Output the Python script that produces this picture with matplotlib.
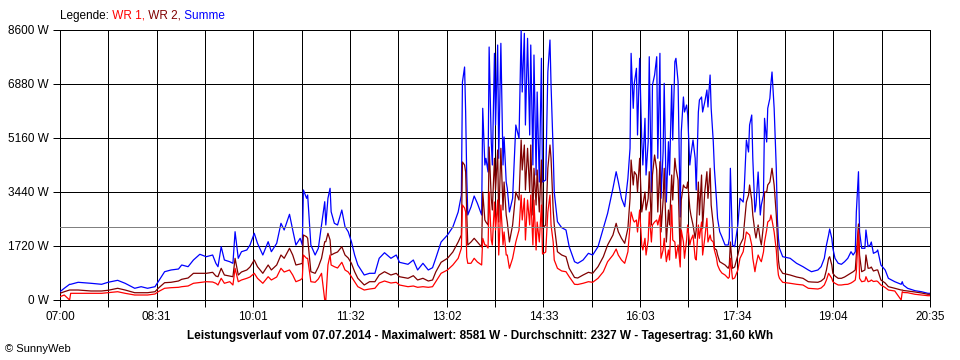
import numpy as np
import pandas as pd
import matplotlib
matplotlib.use('Agg')
import matplotlib.pyplot as plt

# Leistungsverlauf 07.07.2014, Werte aus dem SunnyWeb-Diagramm abgelesen
# Zeit in Minuten ab 07:00, Leistung in W
start = '2014-07-07 07:00'
ende_min = 815

minuten = [0, 4, 9, 10, 17, 29, 39, 45, 54, 61, 70, 76, 82, 89, 92, 98, 104, 111, 114,
           120, 125, 131, 137, 143, 146, 148, 151, 154, 159, 162, 164, 167, 170, 175, 178,
           182, 185, 190, 195, 198, 203, 207, 210, 215, 218, 221, 225, 227, 228, 231,
           232, 235, 239, 242, 245, 248, 249, 251, 253, 254, 257, 260, 264, 267, 270, 273,
           276, 279, 285, 290, 295, 299, 304, 310, 315, 318, 326, 331, 335, 340, 345, 349,
           352, 357, 363, 368, 373, 376, 377, 379, 380, 381, 382, 385, 388, 391, 395, 396,
           398, 399, 401, 402, 404, 405, 407, 408, 410, 411, 413, 415, 416, 418, 419, 421,
           424, 427, 430, 432, 433, 435, 436, 438, 440, 441, 443, 444, 446, 447, 449, 451,
           452, 455, 457, 459, 460, 462, 463, 466,
           470, 474, 477, 482, 485, 490, 495, 499, 504, 509, 513, 518, 521, 523, 526, 529,
           532, 534, 535, 537, 538, 540, 541, 543, 545, 546, 548, 549, 551, 552, 554, 555,
           557, 559, 560, 562, 563, 565, 566, 568, 570, 571, 573, 574, 576, 577, 579, 581,
           582, 584, 585, 587, 588, 590, 591, 593, 595, 596, 598, 599, 601, 602, 604, 606,
           607, 609, 610, 612, 613, 615, 616, 618, 620, 623, 626, 627, 628, 630, 632, 635,
           637, 640, 641, 643, 645, 646, 648, 649, 651, 652, 654, 656, 657, 659, 660, 662,
           663, 665, 666, 667, 669, 671, 672, 673, 674, 677, 684, 690, 696, 701,
           704, 710, 713, 716, 718, 720, 721, 723, 724, 726, 729, 732, 735, 738, 741, 743,
           745, 746, 748, 749, 751, 754, 755, 757, 759, 760, 762, 765, 766, 769, 773, 776,
           782, 788, 789, 790, 794, 801, 807, 813, 815]

summe = [264, 373, 500, 500, 564, 532, 500, 564, 627, 532, 373, 424, 373, 424, 583, 901, 956, 987, 1115,
         1061, 1274, 1456, 1379, 1433, 1169, 1061, 1698, 1274, 1220, 1169, 2175, 1328, 1538, 1593, 1752,
         2124, 1806, 1433, 1857, 1538, 1806, 2443, 2230, 2730, 2230, 1752, 1965, 1752, 3504, 3239,
         3344, 1752, 1433, 1647, 2389, 3131, 2389, 3239, 3558, 2812, 2443, 2389, 2866, 2335, 2175, 1857,
         1433, 1115, 796, 850, 850, 1328, 1506, 1328, 1433, 1201, 1137, 1274, 956, 1169, 956, 1029,
         1328, 1847, 2070, 2325, 2803, 3344, 6943, 7421, 5988, 3981, 2707, 2962, 3312, 3080, 2707, 6106,
         4300, 4513, 4077, 8058, 5032, 4300, 7857, 5574, 8122, 4513, 8176, 4300, 5192, 3758, 3558, 2803,
         3239, 5574, 5150, 8581, 6625, 8494, 5574, 8335, 5255, 8122, 4300, 7803, 3981, 6625, 3758, 7698,
         3758, 3822, 7262, 8281, 6848, 4723, 3440, 2494,
         2303, 2230, 1698, 1220, 1169, 1274, 1487, 1433, 1698, 2284, 2761, 3558, 4086, 3768, 3239, 2972,
         3876, 4832, 7857, 6106, 6902, 7380, 5255, 7698, 5042, 4300, 5787, 3981, 5042, 7749, 3440, 6848,
         7166, 7749, 4513, 7857, 3239, 4723, 6902, 3121, 5042, 3981, 6848, 5096, 7590, 7698, 6953, 2643,
         5351, 6466, 5988, 6211, 5892, 4300, 4618, 5096, 4513, 3504, 5988, 6370, 6466, 5988, 6306, 6689,
         6147, 7166, 6106, 5032, 4195, 3185, 2602, 2175, 2016, 1752, 1752, 1965, 4195, 1752, 1698, 2389,
         3239, 3121, 3558, 5096, 4714, 5574, 5892, 4513, 2803, 3026, 4077, 2707, 3026, 3344, 5787, 5032,
         6106, 6424, 6902, 7262, 6106, 4195, 2602, 1965, 1647, 1379, 1328, 1169, 1061, 956,
         901, 956, 1061, 1328, 1752, 2070, 2261, 1965, 1647, 1328, 1169, 1137, 1220, 1328, 1538, 1433,
         1538, 2803, 4086, 2175, 1647, 1647, 2230, 1698, 1752, 1847, 1487, 1538, 1593, 1115, 956, 691,
         583, 500, 583, 478, 373, 296, 264, 213, 213]

wr2 = [213, 264, 318, 318, 318, 287, 287, 309, 373, 318, 232, 232, 232, 264, 373, 551, 564, 605, 659,
       701, 850, 850, 850, 882, 764, 742, 1010, 796, 764, 742, 1328, 796, 892, 956, 1051,
       1274, 1061, 850, 1115, 956, 1115, 1433, 1328, 1647, 1433, 1115, 1147, 1169, 2070, 2016,
       1965, 901, 850, 1051, 1328, 1857, 1857, 2124, 1911, 1433, 1487, 1529, 1698, 1433, 1338, 1169,
       901, 691, 478, 583, 583, 796, 901, 796, 850, 742, 691, 774, 637, 691, 605, 637,
       892, 1201, 1328, 1529, 1847, 2070, 4395, 4300, 4077, 2803, 1752, 1847, 1965, 1847, 1688, 3440,
       2548, 2484, 2389, 4873, 3239, 2867, 4513, 3504, 4778, 2484, 4832, 2867, 3758, 2707, 2484, 1847,
       2389, 3440, 3185, 5096, 4141, 4937, 3504, 4832, 3440, 4937, 2707, 4195, 3026, 4141, 2803, 4459,
       2293, 2389, 4195, 4937, 4513, 2867, 2389, 1538,
       1433, 1379, 1010, 717, 701, 796, 882, 850, 1061, 1379, 1752, 2070, 2443, 2175, 1965, 1806,
       2284, 3239, 4459, 3663, 4086, 3981, 3440, 4513, 2803, 3026, 3440, 2867, 3239, 4086, 2389, 3981,
       4618, 4141, 2803, 4405, 2166, 3185, 4195, 1847, 2867, 2389, 3981, 3185, 4513, 4195, 3822, 1274,
       3185, 3663, 3599, 3558, 3758, 2921, 2707, 2389, 1965, 2230, 3758, 2707, 3981, 2284, 3440, 4086,
       3239, 4195, 3026, 2389, 1647, 1593, 1433, 1220, 1178, 1115, 1010, 1115, 1847, 1010, 1051, 1433,
       1752, 1965, 2389, 3121, 3344, 3663, 3185, 2707, 2166, 1975, 2389, 1911, 1752, 2389, 3440, 3440,
       3663, 3758, 3981, 4195, 3663, 2707, 1965, 1274, 1010, 850, 796, 733, 691, 583,
       573, 564, 605, 691, 956, 1328, 1379, 1115, 850, 764, 691, 691, 733, 796, 860, 901,
       956, 1433, 2421, 1433, 901, 956, 1433, 1010, 1019, 1051, 924, 956, 956, 637, 541, 424,
       373, 318, 318, 303, 287, 255, 223, 182, 182]

wr1 = [105, 159, 0, 213, 213, 213, 213, 232, 264, 213, 159, 159, 159, 191, 264, 373, 392, 404, 424,
       446, 532, 557, 583, 573, 532, 478, 691, 532, 583, 478, 1010, 583, 637, 691, 733,
       850, 691, 532, 742, 637, 733, 1010, 892, 956, 796, 583, 637, 691, 1433, 1328,
       1328, 583, 564, 669, 850, 0, 0, 1115, 1433, 1115, 1061, 1019, 1201, 956, 892, 742,
       583, 424, 318, 350, 373, 541, 605, 541, 564, 478, 424, 446, 404, 424, 404, 424,
       583, 850, 956, 1115, 1328, 1647, 3026, 2930, 2803, 1370, 1169, 1169, 1328, 1210, 1115, 1965,
       1752, 1752, 1656, 3440, 1911, 1752, 3121, 2230, 3185, 1433, 3026, 1752, 2166, 1433, 1433, 1010,
       1328, 1847, 2230, 3344, 2548, 3239, 1911, 3185, 2389, 3344, 1752, 3185, 1593, 2484, 1847, 3026,
       1465, 1529, 2803, 3344, 2389, 1847, 1274, 1010,
       924, 901, 742, 500, 494, 532, 583, 564, 691, 901, 1220, 1433, 1624, 1433, 1274, 1169,
       1538, 2389, 2803, 2548, 2484, 2548, 2166, 2867, 1752, 1593, 1965, 1433, 1911, 2803, 1847, 2389,
       2484, 2548, 2389, 2707, 1328, 1593, 1965, 1220, 1593, 1274, 3026, 1911, 1847, 1328, 1752, 1051,
       2230, 1847, 1328, 1911, 2389, 1752, 1911, 2070, 1328, 1274, 2389, 1965, 2484, 1433, 1965, 2602,
       1847, 2070, 1911, 1847, 1593, 1338, 1115, 956, 860, 796, 691, 733, 1328, 669, 701, 956,
       1328, 1538, 1752, 2166, 2102, 2070, 1752, 1328, 901, 1115, 1433, 1274, 1220, 1529, 1847, 2230,
       2484, 2548, 2707, 2548, 2166, 1593, 1115, 796, 691, 564, 532, 500, 478, 373,
       366, 350, 382, 478, 637, 850, 796, 691, 583, 532, 478, 478, 494, 500, 541, 583,
       637, 901, 2230, 691, 583, 605, 742, 583, 605, 637, 589, 605, 589, 478, 398, 318,
       287, 0, 264, 239, 232, 182, 159, 137, 137]

y_werte = [0, 1720, 3440, 5160, 6880, 8600]
durchschnitt = 2327
titel = ('Leistungsverlauf vom 07.07.2014 - Maximalwert: 8581 W - '
         'Durchschnitt: 2327 W - Tagesertrag: 31,60 kWh')
legende = [('Legende:', 'black'), (' WR 1,', '#ff0000'), (' WR 2,', '#800000'), (' Summe', '#0000ff')]

plt.rcParams['font.family'] = ['Liberation Sans', 'DejaVu Sans']
lw = 0.72  # entspricht 1 Pixel bei 100 dpi

fig = plt.figure(figsize=(9.6, 3.6), dpi=100)
ax = fig.add_axes([60 / 960, 60 / 360, 870 / 960, 270 / 360])

# Kurven
ax.plot(minuten, summe, color='#0000ff', lw=0.9, zorder=3)
ax.plot(minuten, wr2, color='#800000', lw=0.9, zorder=4)
ax.plot(minuten, wr1, color='#ff0000', lw=0.9, zorder=5)
ax.axhline(durchschnitt, color='#808080', lw=lw, antialiased=False, zorder=6)

# Achsen und Raster
x_ticks = np.linspace(0, ende_min, 19)
t0 = pd.Timestamp(start)
x_labels = [(t0 + pd.Timedelta(minutes=m)).round('min').strftime('%H:%M') if i % 2 == 0 else ''
            for i, m in enumerate(x_ticks)]
ax.set_xlim(0, ende_min)
ax.set_ylim(0, y_werte[-1])
ax.set_xticks(x_ticks)
ax.set_xticklabels(x_labels)
ax.set_yticks(y_werte)
ax.set_yticklabels([f'{v} W' for v in y_werte])
ax.grid(True, color='black', lw=lw, antialiased=False)
ax.set_axisbelow(True)
ax.tick_params(length=5, width=lw, color='black', labelsize=8.5, pad=3)
for s in ax.spines.values():
    s.set_linewidth(lw)
    s.set_antialiased(False)

# Legende oben als farbiger Text
fig.canvas.draw()
r = fig.canvas.get_renderer()
x = 60 / 960
for txt, farbe in legende:
    t = fig.text(x, 1 - 16 / 360, txt, color=farbe, fontsize=8.5, va='center', ha='left')
    bb = t.get_window_extent(r)
    x = bb.x1 / fig.bbox.width

fig.text(0.5, 1 - 336 / 360, titel, fontsize=8.5, fontweight='bold', ha='center', va='center')
fig.text(5 / 960, 1 - 349 / 360, '\u00a9 SunnyWeb', fontsize=8, ha='left', va='center')

fig.savefig('out.png', dpi=100, facecolor='white')
